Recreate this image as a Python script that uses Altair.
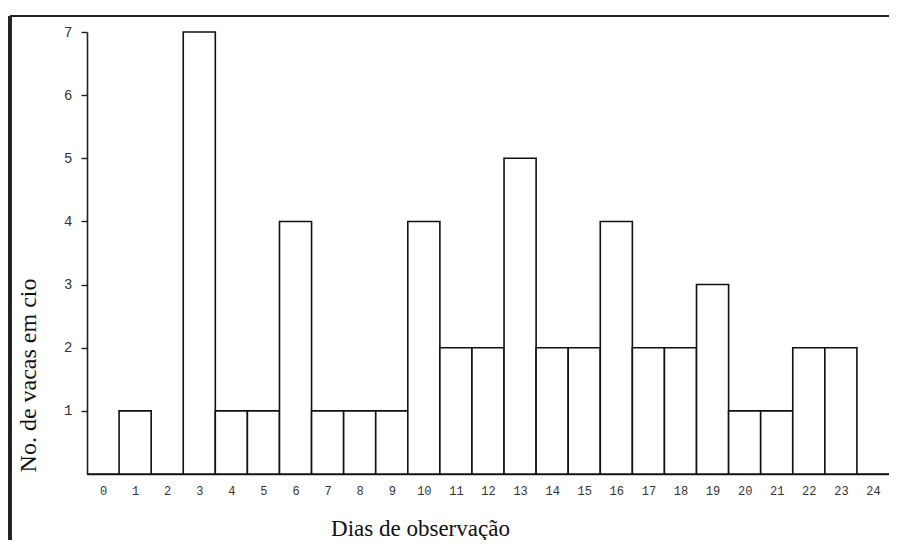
import altair as alt
import pandas as pd

days = list(range(25))
counts = [0, 1, 0, 7, 1, 1, 4, 1, 1, 1, 4, 2, 2, 5, 2, 2, 4, 2, 2, 3, 1, 1, 2, 2, 0]
y_ticks = [1, 2, 3, 4, 5, 6, 7]

df = pd.DataFrame({"dia": days, "vacas": counts})
df["x0"] = df["dia"] - 0.5
df["x1"] = df["dia"] + 0.5

xscale = alt.Scale(domain=[-0.5, 24.5], nice=False, zero=False)
yscale = alt.Scale(domain=[0, 7], nice=False)

bars = alt.Chart(df).mark_bar(fill="white", stroke="#111", strokeWidth=1.6).encode(
    x=alt.X("x0:Q", scale=xscale,
            axis=alt.Axis(values=days, title="Dias de observação", ticks=False,
                          grid=False, labelPadding=11, labelFontSize=12,
                          labelFont="Liberation Mono", labelColor="#333",
                          domainColor="#222", domainWidth=1.6,
                          titleFont="Liberation Serif", titleFontSize=23,
                          titleFontWeight="normal", titleColor="#111",
                          titleX=333, titleY=61, titleBaseline="alphabetic",
                          titleAlign="center", labelFlush=False)),
    x2="x1:Q",
    y=alt.Y("vacas:Q", scale=yscale,
            axis=alt.Axis(values=y_ticks, title="No. de vacas em cio", grid=False,
                          tickSize=6, tickColor="#222", tickWidth=1.4,
                          labelPadding=9, labelFontSize=14,
                          labelFont="Liberation Mono", labelColor="#333",
                          domainColor="#222", domainWidth=1.6,
                          titleFont="Liberation Serif", titleFontSize=24,
                          titleFontWeight="normal", titleColor="#111",
                          titleAngle=270, titleX=-52, titleY=343,
                          titleBaseline="alphabetic", titleAlign="center")),
    y2=alt.datum(0),
)

frame_left = alt.Chart(df).mark_rule(color="#222", strokeWidth=2.2).encode(
    x=alt.value(-77), y=alt.value(-16), y2=alt.value(508)
)
frame_top = alt.Chart(df).mark_rule(color="#222", strokeWidth=2.2).encode(
    x=alt.value(-77), x2=alt.value(810), y=alt.value(-16)
)

chart = alt.layer(bars, frame_left, frame_top).properties(
    width=802, height=442,
    autosize=alt.AutoSizeParams(type="none"),
    padding={"left": 79, "top": 24, "right": 0, "bottom": 66},
    background="white",
).configure_view(stroke=None)

chart.save("out.html", embed_options={"renderer": "svg", "actions": False})
